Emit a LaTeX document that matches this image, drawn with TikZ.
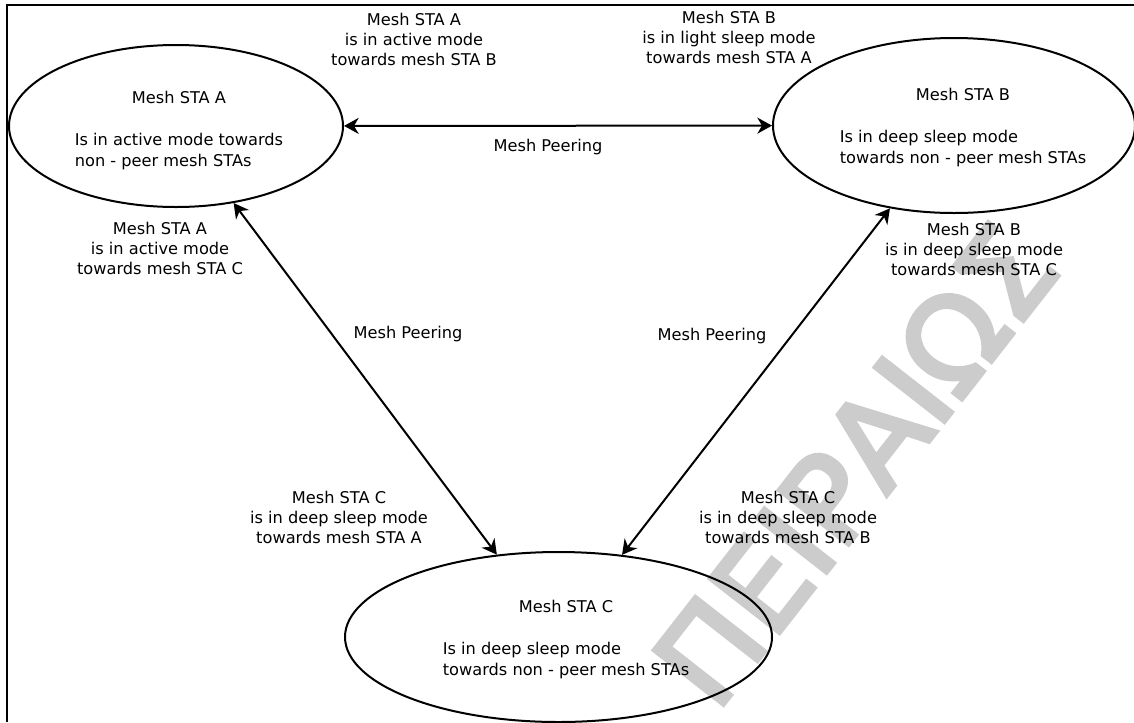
\documentclass[tikz,border=0pt]{standalone}
\usepackage{fontspec}
\setmainfont{DejaVu Sans}
\usetikzlibrary{arrows.meta,shapes.geometric}
\definecolor{wmgray}{RGB}{204,204,204}
% filled and stroked glyphs for a heavier watermark
\newcommand{\heavytext}[2]{\special{pdf:literal direct 2 Tr #1 w}#2\special{pdf:literal direct 0 Tr}}
\begin{document}
\begin{tikzpicture}[x=0.75pt,y=-0.75pt,
  station/.style={ellipse, draw, line width=1.5pt, inner sep=0pt},
  stationtext/.style={inner sep=0pt, font=\fontsize{12.15pt}{15.75pt}\selectfont},
  modelabel/.style={inner sep=0pt, align=center, font=\fontsize{12.15pt}{15pt}\selectfont},
  peer/.style={line width=1.5pt, >={Stealth[length=11pt,width=12pt,inset=3.5pt]}, <->},
]
\useasboundingbox (0,0) rectangle (1134,722);
\clip (0,0) rectangle (1134,722);

% background watermark
\node[anchor=base west, rotate=52, inner sep=0pt, text=wmgray,
      font=\fontsize{90.75pt}{90pt}\selectfont] (wm) at (716,714) {\heavytext{3.4}{ΠΕΙΡΑΙΩΣ}};

% frame
\draw[line width=1.5pt] (7,722) -- (7,5) -- (1134,5);

% stations
\node[station, minimum width=250.5pt, minimum height=121.5pt] (A) at (176,126) {};
\node[station, minimum width=271.5pt, minimum height=131.25pt] (B) at (954,125.5) {};
\node[station, minimum width=320.25pt, minimum height=127.5pt] (C) at (558.5,637) {};

\node[stationtext] (At) at (179,131) {\begin{tabular}{@{}l@{}}\multicolumn{1}{@{}c@{}}{Mesh STA A}\\ \\ Is in active mode towards\\ non - peer mesh STAs\end{tabular}};
\node[stationtext] (Bt) at (963,127.5) {\begin{tabular}{@{}l@{}}\multicolumn{1}{@{}c@{}}{Mesh STA B}\\ \\ Is in deep sleep mode\\ towards non - peer mesh STAs\end{tabular}};
\node[stationtext] (Ct) at (566,640) {\begin{tabular}{@{}l@{}}\multicolumn{1}{@{}c@{}}{Mesh STA C}\\ \\ Is in deep sleep mode\\ towards non - peer mesh STAs\end{tabular}};

% peering links
\draw[peer] (A) -- (B);
\draw[peer] (A) -- (C);
\draw[peer] (B) -- (C);

\node[modelabel] (pAB) at (548,147) {Mesh Peering};
\node[modelabel] (pAC) at (408,334) {Mesh Peering};
\node[modelabel] (pBC) at (712,336) {Mesh Peering};

% power mode labels
\node[modelabel] (lAB) at (414,39) {Mesh STA A\\is in active mode\\towards mesh STA B};
\node[modelabel] (lBA) at (729,37) {Mesh STA B\\is in light sleep mode\\towards mesh STA A};
\node[modelabel] (lAC) at (160,248) {Mesh STA A\\is in active mode\\towards mesh STA C};
\node[modelabel] (lBC) at (974,249) {Mesh STA B\\is in deep sleep mode\\towards mesh STA C};
\node[modelabel] (lCA) at (339,517) {Mesh STA C\\is in deep sleep mode\\towards mesh STA A};
\node[modelabel] (lCB) at (788,517) {Mesh STA C\\is in deep sleep mode\\towards mesh STA B};
\end{tikzpicture}
\end{document}
